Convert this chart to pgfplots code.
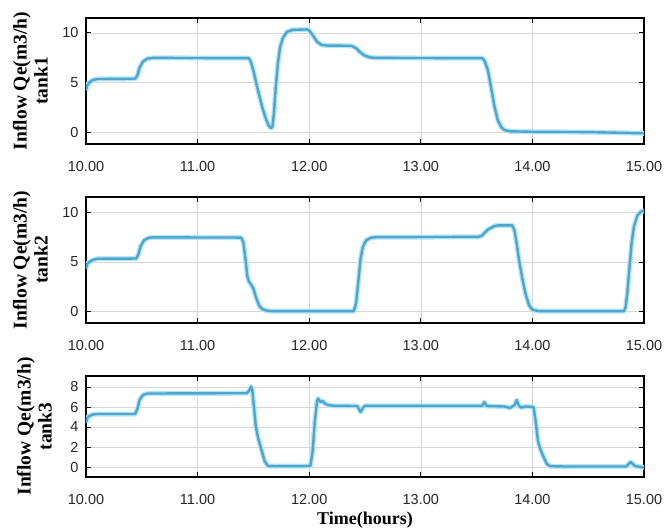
\documentclass[border=0pt]{standalone}
\usepackage{fontspec}
\setmainfont{Liberation Sans}
\newfontfamily\tnr{Liberation Serif}
\usepackage{pgfplots}
\usepackage{pgfplotstable}
\pgfplotsset{compat=1.18}
\definecolor{lc}{RGB}{80,165,205}
\definecolor{halo}{RGB}{180,230,245}
\definecolor{gridc}{RGB}{215,215,215}

\pgfplotstableread{
t v
10.00 4.2
10.01 4.7
10.03 5.0
10.06 5.25
10.10 5.35
10.44 5.38
10.46 5.7
10.48 6.5
10.51 7.1
10.55 7.4
10.60 7.48
11.46 7.45
11.48 7.0
11.50 6.2
11.52 5.2
11.55 3.8
11.58 2.5
11.61 1.4
11.635 0.7
11.655 0.42
11.67 0.5
11.685 2.0
11.70 4.5
11.72 7.0
11.74 8.6
11.765 9.5
11.80 10.1
11.85 10.3
11.98 10.35
12.00 10.25
12.03 9.8
12.07 9.1
12.11 8.8
12.16 8.72
12.38 8.7
12.42 8.45
12.46 8.0
12.50 7.7
12.55 7.52
12.60 7.48
13.55 7.45
13.57 7.2
13.60 6.3
13.63 4.5
13.66 2.6
13.69 1.2
13.72 0.5
13.75 0.2
13.80 0.08
14.00 0.03
14.50 0.0
15.00 -0.12
}\tankA

\pgfplotstableread{
t v
10.00 4.3
10.01 4.8
10.03 5.0
10.06 5.2
10.10 5.33
10.45 5.35
10.47 5.8
10.49 6.6
10.52 7.2
10.56 7.45
10.60 7.5
11.39 7.48
11.41 7.0
11.43 5.2
11.445 3.6
11.46 3.0
11.48 2.7
11.50 2.3
11.52 1.5
11.55 0.6
11.58 0.2
11.63 0.03
11.70 0.0
12.40 0.0
12.42 0.8
12.44 3.0
12.46 5.3
12.48 6.5
12.51 7.2
12.55 7.45
12.60 7.52
13.52 7.55
13.55 7.7
13.60 8.3
13.66 8.65
13.70 8.72
13.82 8.72
13.84 8.2
13.86 6.8
13.88 5.2
13.91 3.3
13.94 1.7
13.97 0.6
14.00 0.15
14.05 0.02
14.10 0.0
14.82 0.0
14.835 0.4
14.85 1.8
14.87 4.5
14.89 7.0
14.91 8.6
14.94 9.7
14.97 10.1
15.00 10.2
}\tankB

\pgfplotstableread{
t v
10.00 4.4
10.01 4.9
10.03 5.1
10.06 5.25
10.10 5.3
10.44 5.3
10.46 5.8
10.48 6.7
10.51 7.2
10.55 7.35
11.44 7.38
11.46 7.6
11.48 8.05
11.49 7.7
11.505 6.0
11.52 4.2
11.54 3.0
11.57 1.8
11.60 0.6
11.63 0.1
11.70 0.08
12.01 0.1
12.03 1.5
12.05 4.5
12.07 6.6
12.08 6.85
12.10 6.5
12.12 6.6
12.14 6.35
12.17 6.2
12.22 6.12
12.43 6.1
12.45 5.7
12.46 5.5
12.48 5.9
12.50 6.12
13.55 6.12
13.57 6.5
13.59 6.1
13.75 6.05
13.80 5.9
13.84 6.2
13.86 6.7
13.88 6.1
13.90 5.95
13.94 6.05
14.01 6.0
14.03 4.5
14.05 2.6
14.07 1.8
14.10 1.0
14.13 0.3
14.16 0.08
14.30 0.05
14.84 0.05
14.88 0.5
14.92 0.1
15.00 -0.05
}\tankC

\pgfplotsset{
  tank/.style={
    scale only axis, width=558pt,
    xmin=10, xmax=15,
    xtick={10,11,12,13,14,15},
    xticklabels={10.00,11.00,12.00,13.00,14.00,15.00},
    grid=major, major grid style={gridc, line width=0.6pt},
    axis line style={line width=1.1pt},
    tick align=inside, major tick length=5pt,
    tick style={black, line width=0.8pt},
    ticklabel style={font=\fontsize{14.5}{16}\selectfont, text=black!85},
    /pgf/number format/assume math mode=true,
    xticklabel style={yshift=-14pt},
    yticklabel style={xshift=-4pt},
    ylabel style={font=\tnr\bfseries\fontsize{19.5}{21}\selectfont, align=center,
      at={(axis description cs:-0.062,0.5)}, anchor=south},
  },
  hal/.style={halo, line width=5pt, line join=round},
  core/.style={lc, line width=2.4pt, line join=round},
}

\begin{document}
\begin{tikzpicture}
\useasboundingbox (-86pt,18pt) rectangle (581pt,-510pt);
\begin{axis}[tank, at={(0pt,0pt)}, anchor=north west, height=126pt,
  ymin=-1.2, ymax=11.5, ytick={0,5,10},
  ylabel={Inflow Qe(m3/h)\\tank1}]
  \addplot[hal] table[x=t,y=v]{\tankA};
  \addplot[core] table[x=t,y=v]{\tankA};
\end{axis}
\begin{axis}[tank, at={(0pt,-179pt)}, anchor=north west, height=126pt,
  ymin=-1.2, ymax=11.6, ytick={0,5,10},
  ylabel={Inflow Qe(m3/h)\\tank2}]
  \addplot[hal] table[x=t,y=v]{\tankB};
  \addplot[core] table[x=t,y=v]{\tankB};
\end{axis}
\begin{axis}[tank, at={(0pt,-358pt)}, anchor=north west, height=101pt,
  ymin=-1, ymax=9.1, ytick={0,2,4,6,8},
  ylabel={Inflow Qe(m3/h)\\tank3},
  ylabel style={at={(axis description cs:-0.055,0.5)}},
  xlabel={Time(hours)},
  xlabel style={font=\tnr\bfseries\fontsize{18}{21}\selectfont,
    at={(axis description cs:0.5,0)}, anchor=base, yshift=-47pt}]
  \addplot[hal] table[x=t,y=v]{\tankC};
  \addplot[core] table[x=t,y=v]{\tankC};
\end{axis}
\end{tikzpicture}
\end{document}
